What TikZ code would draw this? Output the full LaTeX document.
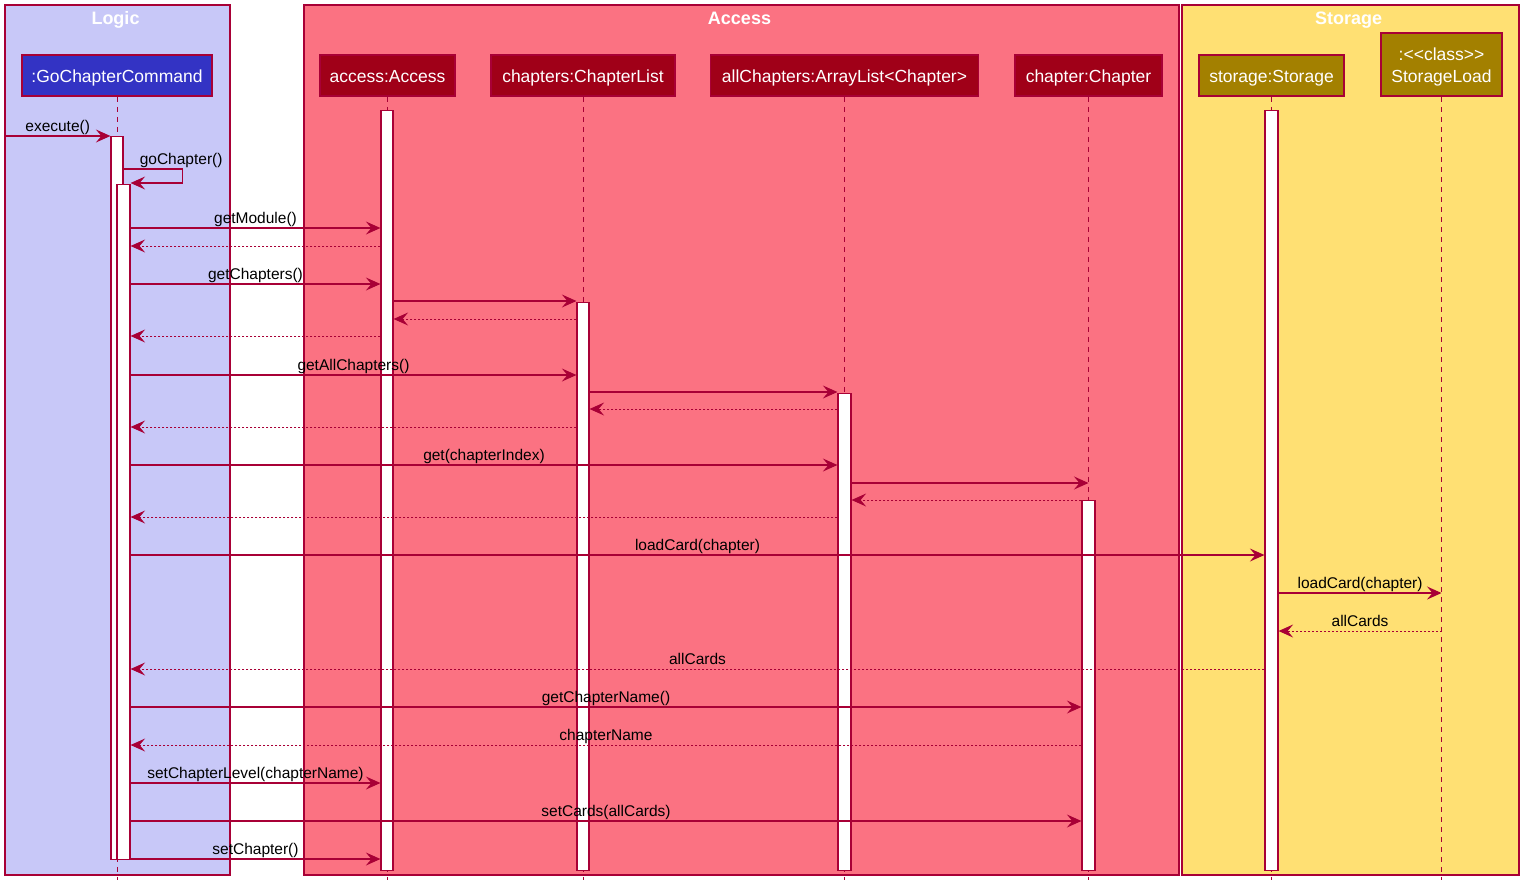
\documentclass[tikz,border=0pt]{standalone}
\usepackage{fontspec}
\setmainfont{Liberation Sans}
\newfontfamily\lsans{Liberation Sans}
\usetikzlibrary{arrows.meta}
\definecolor{crim}{RGB}{168,0,54}
\definecolor{logicbg}{RGB}{200,200,248}
\definecolor{accessbg}{RGB}{251,114,130}
\definecolor{storagebg}{RGB}{255,224,115}
\definecolor{gcfill}{RGB}{51,51,196}
\definecolor{accfill}{RGB}{160,0,24}
\definecolor{stfill}{RGB}{163,128,0}
\begin{document}
\begin{tikzpicture}[x=1pt,y=-1pt,
 grp/.style={draw=crim, line width=1.2pt},
 grptitle/.style={text=white, font=\fontsize{18}{20}\selectfont\bfseries, anchor=base, inner sep=0},
 part/.style={draw=crim, line width=1.5pt, text=white, font=\lsans\fontsize{17.5}{22}\selectfont, inner sep=0, align=center, text height=16pt, text depth=2pt},
 life/.style={draw=crim, line width=1pt, dash pattern=on 5pt off 5pt},
 act/.style={draw=crim, fill=white, line width=1.2pt, inner sep=0, anchor=north, minimum width=12pt},
 msg/.style={draw=crim, line width=1.1pt, -{Stealth[length=14.5pt,width=13pt,inset=5.5pt]}},
 ret/.style={msg, line width=1pt, dash pattern=on 2pt off 2pt},
 lbl/.style={font=\fontsize{15.5}{18}\selectfont, inner sep=0, anchor=base, yshift=5pt, text=black}
]
\useasboundingbox (0,0) rectangle (1531,895);
% groups
\draw[grp, fill=logicbg] (5,5) rectangle (230,875);
\draw[grp, fill=accessbg] (304,5) rectangle (1179,875);
\draw[grp, fill=storagebg] (1182,5) rectangle (1519,875);
\node[grptitle] (tLogic) at (115.5,24) {Logic};
\node[grptitle] (tAccess) at (739.5,24) {Access};
\node[grptitle] (tStorage) at (1348.5,24) {Storage};
% participants
\node[part, fill=gcfill, minimum width=190pt, minimum height=41pt] (gc) at (117,75.5) {:GoChapterCommand};
\node[part, fill=accfill, minimum width=135pt, minimum height=41pt] (acc) at (387.5,75.5) {access:Access};
\node[part, fill=accfill, minimum width=184pt, minimum height=41pt] (chl) at (583,75.5) {chapters:ChapterList};
\node[part, fill=accfill, minimum width=268pt, minimum height=41pt] (all) at (844.5,75.5) {allChapters:ArrayList<Chapter>};
\node[part, fill=accfill, minimum width=147pt, minimum height=41pt] (ch) at (1088.5,75.5) {chapter:Chapter};
\node[part, fill=stfill, minimum width=145pt, minimum height=41pt] (st) at (1271.5,75.5) {storage:Storage};
\node[part, fill=stfill, minimum width=121pt, minimum height=63pt, text height=, text depth=] (sl) at (1441.5,64.5) {};
\node[text=white, font=\lsans\fontsize{17.5}{22}\selectfont, align=center, inner sep=0] (slt) at (1441.5,66.5) {:<<class>>\\StorageLoad};
% lifelines
\foreach \p in {gc,acc,chl,all,ch,st,sl}{
  \draw[life] (\p.south) -- (\p.south |- 0,880);
}
% activation bars
\node[act, minimum height=723pt] (gc1) at (117,136) {};
\node[act, minimum width=13pt, minimum height=675pt] (gc2) at (123.5,184) {};
\node[act, minimum height=760pt] (acc1) at (387,110) {};
\node[act, minimum height=568pt] (chl1) at (583,302) {};
\node[act, minimum width=13pt, minimum height=477pt] (all1) at (844.5,393) {};
\node[act, minimum width=13pt, minimum height=370pt] (ch1) at (1088.5,500) {};
\node[act, minimum width=13pt, minimum height=760pt] (st1) at (1271.5,110) {};
% messages
\coordinate (ext) at (5,136);
\draw[msg] (ext) -- node[lbl]{execute()} (gc1.west |- 0,136);
\draw[msg] (gc1.east |- 0,169) -- ++(59,0) -- ++(0,14) -- (gc2.east |- 0,183);
\path (gc1.east |- 0,169) node[lbl, anchor=base west, xshift=16pt]{goChapter()};
\draw[msg] (gc2.east |- 0,228) -- node[lbl]{getModule()} (acc1.west |- 0,228);
\draw[ret] (acc1.west |- 0,246) -- (gc2.east |- 0,246);
\draw[msg] (gc2.east |- 0,284) -- node[lbl]{getChapters()} (acc1.west |- 0,284);
\draw[msg] (acc1.east |- 0,301) -- (chl1.west |- 0,301);
\draw[ret] (chl1.west |- 0,319) -- (acc1.east |- 0,319);
\draw[ret] (acc1.west |- 0,336) -- (gc2.east |- 0,336);
\draw[msg] (gc2.east |- 0,375) -- node[lbl]{getAllChapters()} (chl1.west |- 0,375);
\draw[msg] (chl1.east |- 0,392) -- (all1.west |- 0,392);
\draw[ret] (all1.west |- 0,409) -- (chl1.east |- 0,409);
\draw[ret] (chl1.west |- 0,427) -- (gc2.east |- 0,427);
\draw[msg] (gc2.east |- 0,465) -- node[lbl]{get(chapterIndex)} (all1.west |- 0,465);
\draw[msg] (all1.east |- 0,483) -- (ch |- 0,483);
\draw[ret] (ch1.west |- 0,500) -- (all1.east |- 0,500);
\draw[ret] (all1.west |- 0,517) -- (gc2.east |- 0,517);
\draw[msg] (gc2.east |- 0,555) -- node[lbl]{loadCard(chapter)} (st1.west |- 0,555);
\draw[msg] (st1.east |- 0,593) -- node[lbl]{loadCard(chapter)} (sl |- 0,593);
\draw[ret] (sl |- 0,631) -- node[lbl]{allCards} (st1.east |- 0,631);
\draw[ret] (st1.west |- 0,669) -- node[lbl]{allCards} (gc2.east |- 0,669);
\draw[msg] (gc2.east |- 0,707) -- node[lbl]{getChapterName()} (ch1.west |- 0,707);
\draw[ret] (ch1.west |- 0,745) -- node[lbl]{chapterName} (gc2.east |- 0,745);
\draw[msg] (gc2.east |- 0,783) -- node[lbl]{setChapterLevel(chapterName)} (acc1.west |- 0,783);
\draw[msg] (gc2.east |- 0,821) -- node[lbl]{setCards(allCards)} (ch1.west |- 0,821);
\draw[msg] (gc2.east |- 0,859) -- node[lbl]{setChapter()} (acc1.west |- 0,859);
\end{tikzpicture}
\end{document}
